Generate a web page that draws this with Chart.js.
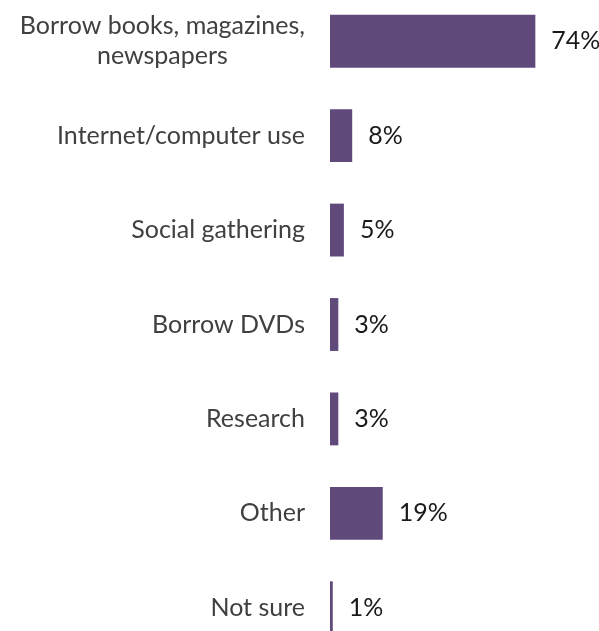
<!DOCTYPE html>
<html>
<head>
<meta charset="utf-8">
<script src="https://cdn.jsdelivr.net/npm/chart.js@4"></script>
<style>
  html, body { margin: 0; padding: 0; background: #fff; overflow: hidden; }
  #wrap { position: absolute; left: 0; top: -6px; width: 599px; height: 661px; }
</style>
</head>
<body>
<div id="wrap"><canvas id="myChart"></canvas></div>
<script>
// Reasons for visiting the library
const categories = [
  ['Borrow books, magazines,', 'newspapers'],
  'Internet/computer use',
  'Social gathering',
  'Borrow DVDs',
  'Research',
  'Other',
  'Not sure'
];
const percentages = [74, 8, 5, 3, 3, 19, 1];

const FONT = '25px Lato';
const LINE_HEIGHT = 30;

// Draws category names (block right-aligned, lines centred) and value labels
const labelPlugin = {
  id: 'labelPlugin',
  afterDatasetsDraw(chart) {
    const ctx = chart.ctx;
    const yScale = chart.scales.y;
    const meta = chart.getDatasetMeta(0);
    ctx.save();
    ctx.font = FONT;
    ctx.textBaseline = 'middle';

    ctx.fillStyle = '#404040';
    ctx.textAlign = 'center';
    categories.forEach((cat, i) => {
      const lines = Array.isArray(cat) ? cat : [cat];
      const y = yScale.getPixelForTick(i);
      const widest = Math.max(...lines.map(l => ctx.measureText(l).width));
      const cx = chart.chartArea.left - 25 - widest / 2;
      lines.forEach((line, j) => {
        ctx.fillText(line, cx, y + (j - (lines.length - 1) / 2) * LINE_HEIGHT);
      });
    });

    ctx.fillStyle = '#1a1a1a';
    ctx.textAlign = 'left';
    meta.data.forEach((bar, i) => {
      ctx.fillText(percentages[i] + '%', bar.x + 16, bar.y);
    });
    ctx.restore();
  }
};

document.addEventListener('DOMContentLoaded', function() {
  const canvas = document.getElementById('myChart');
  new Chart(canvas, {
    type: 'bar',
    data: {
      labels: categories,
      datasets: [{
        data: percentages,
        backgroundColor: '#604a7b',
        barPercentage: 0.56,
        categoryPercentage: 1
      }]
    },
    options: {
      indexAxis: 'y',
      responsive: true,
      maintainAspectRatio: false,
      animation: false,
      layout: { padding: { right: 47 } },
      scales: {
        x: { display: false, min: 0, max: 80 },
        y: {
          grid: { display: false },
          border: { display: false },
          ticks: { display: false },
          afterFit(scale) { scale.width = 330; }
        }
      },
      plugins: {
        legend: { display: false },
        tooltip: { enabled: false }
      }
    },
    plugins: [labelPlugin]
  });
});
</script>
</body>
</html>
